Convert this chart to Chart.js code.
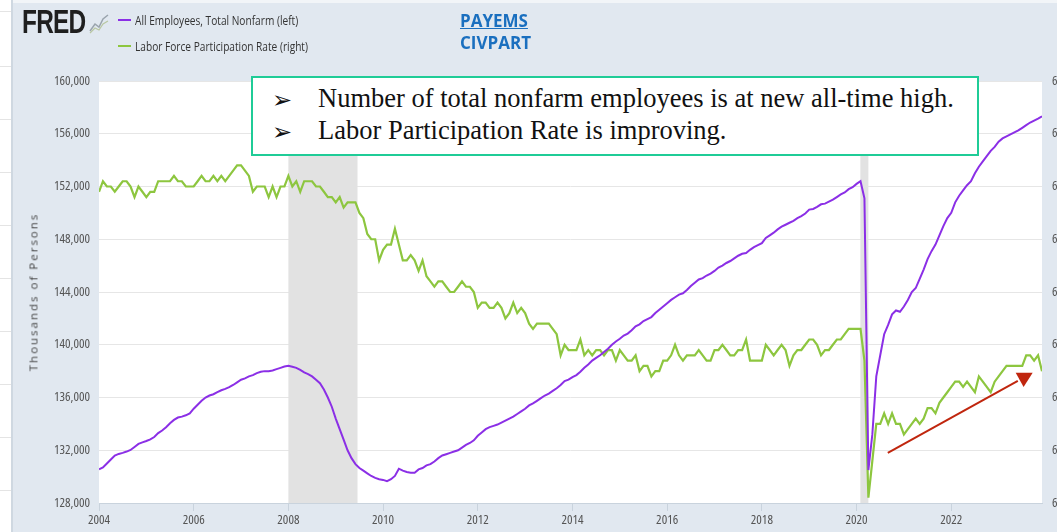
<!DOCTYPE html>
<html>
<head>
<meta charset="utf-8">
<script src="https://cdn.jsdelivr.net/npm/chart.js@4.4.0/dist/chart.umd.min.js"></script>
<style>
  html, body { margin: 0; padding: 0; }
  body { width: 1057px; height: 532px; overflow: hidden; position: relative; background: #e1e8f0; font-family: "Open Sans", sans-serif; }
  #strip { position: absolute; left: 0; top: 0; width: 11px; height: 532px; background: #fff; border-right: 2px solid #cfd8e1;
           background-image: repeating-linear-gradient(to bottom, transparent 0 52px, #e4e4e4 52px 53px); background-position: 0 14px; }
  #topband { position: absolute; left: 13px; top: 0; right: 0; height: 3px; background: #f2f5f8; }
  #chartBox { position: absolute; left: 16px; top: 0; width: 1100px; height: 532px; }
  .fred { position: absolute; left: 22px; top: 3px; font: bold 33px "Liberation Sans", Arial, sans-serif; color: #1f1f1f;
          transform: scaleX(0.74); transform-origin: left top; letter-spacing: -1px; }
  .icon { position: absolute; left: 89px; top: 12px; width: 20px; height: 22px; }
  .sw { position: absolute; left: 118px; width: 13px; height: 2px; }
  .lt { position: absolute; left: 135px; font-size: 13px; color: #333; white-space: nowrap; transform: scaleX(0.78); transform-origin: left center; }
  .code { position: absolute; left: 460px; font: bold 17px "Open Sans", sans-serif; color: #1a6fbf; }
  #ytitle { position: absolute; left: 33px; top: 292px; transform: translate(-50%, -50%) rotate(-90deg); font-size: 11.5px; letter-spacing: 2px; color: #444; white-space: nowrap; }
  #note { position: absolute; left: 251px; top: 76px; width: 724px; height: 76px; border: 2px solid #1fcc97; background: #fff; }
  .nl { position: absolute; font: 26.5px "Liberation Serif", "Times New Roman", serif; color: #111; white-space: nowrap; }
  .bul { position: absolute; left: 19px; font: 24px "DejaVu Sans", sans-serif; color: #111; }
</style>
</head>
<body>
<div id="strip"></div>
<div id="topband"></div>
<div id="chartBox"><canvas id="chart" width="1100" height="532"></canvas></div>

<div class="fred">FRED</div>
<svg class="icon" viewBox="0 0 20 22"><polyline points="1,19 6,12 10,15 14,7 19,3" fill="none" stroke="#9aa4ad" stroke-width="1.5"/><polyline points="1,21 6,16 10,18 14,12 19,9" fill="none" stroke="#b9c7a2" stroke-width="1.2"/></svg>
<div class="sw" style="top:19px;background:#8b2fe6"></div>
<div class="lt" style="top:11px">All Employees, Total Nonfarm (left)</div>
<div class="sw" style="top:45px;background:#8dc63f"></div>
<div class="lt" style="top:37px">Labor Force Participation Rate (right)</div>
<div class="code" style="top:9px;text-decoration:underline">PAYEMS</div>
<div class="code" style="top:31px">CIVPART</div>
<div id="ytitle">Thousands of Persons</div>

<div id="note">
  <div class="bul" style="top:8px">➢</div>
  <div class="nl" style="left:65px;top:5px">Number of total nonfarm employees is at new all-time high.</div>
  <div class="bul" style="top:40px">➢</div>
  <div class="nl" style="left:65px;top:37px">Labor Participation Rate is improving.</div>
</div>

<script>
// ---------- data ----------
const startYear = 2004;

// All Employees, Total Nonfarm (thousands), monthly Jan 2004 - Dec 2023
const payems = [
  130560, 130700, 131000, 131300, 131600, 131720, 131800, 131900, 132020, 132250, 132480, 132600, // 2004
  132700, 132830, 133000, 133300, 133500, 133750, 134050, 134300, 134480, 134550, 134650, 134800, // 2005
  135150, 135450, 135750, 136000, 136150, 136250, 136400, 136550, 136650, 136780, 136950, 137150, // 2006
  137350, 137450, 137600, 137700, 137850, 137950, 138000, 138000, 138050, 138150, 138250, 138350, // 2007
  138400, 138330, 138250, 138100, 137900, 137780, 137600, 137350, 137080, 136600, 136000, 135300, // 2008
  134400, 133600, 132800, 132000, 131400, 130950, 130650, 130450, 130250, 130050, 129900, 129800, // 2009
  129750, 129650, 129800, 130050, 130600, 130450, 130350, 130300, 130300, 130550, 130650, 130850, // 2010
  130950, 131150, 131400, 131600, 131700, 131800, 131900, 132000, 132200, 132400, 132550, 132750, // 2011
  133100, 133350, 133600, 133750, 133850, 133950, 134100, 134250, 134400, 134550, 134750, 134950, // 2012
  135150, 135400, 135550, 135750, 135950, 136150, 136300, 136500, 136700, 136950, 137250, 137350, // 2013
  137550, 137700, 137950, 138250, 138500, 138800, 139000, 139200, 139450, 139700, 140000, 140250, // 2014
  140450, 140700, 140850, 141100, 141400, 141550, 141800, 141950, 142100, 142400, 142650, 142900, // 2015
  143150, 143400, 143600, 143800, 143900, 144150, 144450, 144700, 144950, 145050, 145250, 145400, // 2016
  145600, 145850, 146000, 146200, 146350, 146550, 146750, 146900, 146950, 147200, 147400, 147550, // 2017
  147700, 148100, 148300, 148500, 148750, 148950, 149100, 149250, 149400, 149600, 149750, 149950, // 2018
  150250, 150300, 150450, 150650, 150700, 150850, 151000, 151200, 151400, 151550, 151800, 151950, // 2019
  152200, 152400, 151100, 130500, 133200, 137600, 139200, 140800, 141500, 142300, 142600, 142500, // 2020
  142900, 143400, 144000, 144300, 145000, 145700, 146500, 147100, 147600, 148300, 149000, 149600, // 2021
  150000, 150800, 151300, 151700, 152100, 152400, 153000, 153500, 153900, 154300, 154700, 155000, // 2022
  155400, 155650, 155800, 155950, 156100, 156250, 156450, 156650, 156850, 157000, 157150, 157320  // 2023
];

// Labor Force Participation Rate (%), monthly Jan 2004 - Dec 2023
const civpart = [
  65.9, 66.1, 66.0, 66.0, 65.9, 66.0, 66.1, 66.1, 66.0, 65.8, 66.0, 65.9, // 2004
  65.8, 65.9, 65.9, 66.1, 66.1, 66.1, 66.1, 66.2, 66.1, 66.1, 66.0, 66.0, // 2005
  66.0, 66.1, 66.2, 66.1, 66.1, 66.2, 66.1, 66.2, 66.1, 66.2, 66.3, 66.4, // 2006
  66.4, 66.3, 66.2, 65.9, 66.0, 66.0, 66.0, 65.8, 66.0, 65.8, 66.0, 66.0, // 2007
  66.2, 66.0, 66.1, 65.9, 66.1, 66.1, 66.1, 66.0, 66.0, 65.9, 65.8, 65.8, // 2008
  65.7, 65.8, 65.6, 65.7, 65.7, 65.7, 65.5, 65.4, 65.1, 65.0, 65.0, 64.6, // 2009
  64.8, 64.9, 64.9, 65.2, 64.9, 64.6, 64.6, 64.7, 64.6, 64.4, 64.6, 64.3, // 2010
  64.2, 64.1, 64.2, 64.2, 64.1, 64.0, 64.0, 64.1, 64.2, 64.1, 64.1, 64.0, // 2011
  63.7, 63.8, 63.8, 63.7, 63.7, 63.8, 63.7, 63.5, 63.6, 63.8, 63.6, 63.7, // 2012
  63.6, 63.4, 63.3, 63.4, 63.4, 63.4, 63.4, 63.3, 63.2, 62.8, 63.0, 62.9, // 2013
  62.9, 62.9, 63.1, 62.8, 62.9, 62.8, 62.9, 62.9, 62.8, 62.9, 62.9, 62.7, // 2014
  62.9, 62.8, 62.7, 62.7, 62.8, 62.5, 62.6, 62.6, 62.4, 62.5, 62.5, 62.7, // 2015
  62.7, 62.8, 63.0, 62.8, 62.7, 62.8, 62.8, 62.8, 62.9, 62.8, 62.7, 62.7, // 2016
  62.9, 62.9, 63.0, 62.9, 62.8, 62.8, 62.9, 62.9, 63.1, 62.7, 62.7, 62.7, // 2017
  62.7, 63.0, 62.9, 62.8, 62.9, 63.0, 62.9, 62.6, 62.8, 62.9, 62.9, 63.0, // 2018
  63.1, 63.1, 63.0, 62.8, 62.9, 62.9, 63.0, 63.1, 63.1, 63.2, 63.3, 63.3, // 2019
  63.3, 63.3, 62.7, 60.1, 60.8, 61.5, 61.5, 61.7, 61.5, 61.7, 61.5, 61.5, // 2020
  61.3, 61.4, 61.5, 61.6, 61.5, 61.6, 61.8, 61.8, 61.7, 61.9, 62.0, 62.1, // 2021
  62.2, 62.3, 62.3, 62.2, 62.3, 62.2, 62.1, 62.4, 62.3, 62.2, 62.1, 62.3, // 2022
  62.4, 62.5, 62.6, 62.6, 62.6, 62.6, 62.6, 62.8, 62.8, 62.7, 62.8, 62.5  // 2023
];

// shaded recessions (decimal years)
const recessions = [[2008.0, 2009.46], [2020.08, 2020.25]];

// red arrow drawn on the chart, in (year, rate) units
const arrowFrom = [2020.66, 60.95];
const arrowTo = [2023.72, 62.47];

// ---------- helpers ----------
function toPoints(values) {
  return values.map((v, i) => ({ x: startYear + i / 12, y: v }));
}

// condensed face like FRED's axis text
const tickFont = { family: "'Open Sans', sans-serif", size: 13, weight: "400 condensed" };

// white plot area + recession bars + arrow
const fredPlugin = {
  id: "fredPlugin",
  beforeDraw(chart) {
    const { ctx, chartArea: a } = chart;
    ctx.save();
    ctx.fillStyle = "#fff";
    ctx.fillRect(a.left, a.top, a.right - a.left, a.bottom - a.top);
    ctx.restore();
  },
  beforeDatasetsDraw(chart) {
    const { ctx, chartArea: a, scales } = chart;
    ctx.save();
    ctx.fillStyle = "#e2e2e2";
    recessions.forEach(([s, e]) => {
      const x0 = scales.x.getPixelForValue(s);
      const x1 = scales.x.getPixelForValue(e);
      ctx.fillRect(x0, a.top, x1 - x0, a.bottom - a.top);
    });
    ctx.restore();
  },
  afterDatasetsDraw(chart) {
    const { ctx, scales } = chart;
    const x0 = scales.x.getPixelForValue(arrowFrom[0]);
    const y0 = scales.y2.getPixelForValue(arrowFrom[1]);
    const x1 = scales.x.getPixelForValue(arrowTo[0]);
    const y1 = scales.y2.getPixelForValue(arrowTo[1]);
    const ang = Math.atan2(y1 - y0, x1 - x0);
    const head = 17;
    ctx.save();
    ctx.strokeStyle = "#c0260e";
    ctx.fillStyle = "#c0260e";
    ctx.lineWidth = 2;
    ctx.beginPath();
    ctx.moveTo(x0, y0);
    ctx.lineTo(x1 - head * Math.cos(ang), y1 - head * Math.sin(ang));
    ctx.stroke();
    ctx.beginPath();
    ctx.moveTo(x1, y1);
    ctx.lineTo(x1 - head * Math.cos(ang - 0.5), y1 - head * Math.sin(ang - 0.5));
    ctx.lineTo(x1 - head * Math.cos(ang + 0.5), y1 - head * Math.sin(ang + 0.5));
    ctx.closePath();
    ctx.fill();
    ctx.restore();
  }
};

// ---------- chart ----------
new Chart(document.getElementById("chart"), {
  type: "line",
  data: {
    datasets: [
      {
        label: "All Employees, Total Nonfarm (left)",
        data: toPoints(payems),
        yAxisID: "y",
        borderColor: "#8b2fe6",
        borderWidth: 2,
        pointRadius: 0,
        tension: 0
      },
      {
        label: "Labor Force Participation Rate (right)",
        data: toPoints(civpart),
        yAxisID: "y2",
        borderColor: "#8dc63f",
        borderWidth: 2.2,
        pointRadius: 0,
        tension: 0
      }
    ]
  },
  options: {
    responsive: false,
    animation: false,
    layout: { padding: { top: 81, left: 0, right: 0, bottom: 0 } },
    plugins: { legend: { display: false }, tooltip: { enabled: false } },
    scales: {
      x: {
        type: "linear",
        min: startYear,
        max: startYear + (payems.length - 1) / 12,
        afterFit(s) { s.height = 29; },
        grid: { drawOnChartArea: false, drawTicks: true, tickLength: 8, color: "#c9d3dd" },
        border: { display: true, color: "#c9d3dd" },
        ticks: {
          stepSize: 2,
          includeBounds: false,
          padding: 1,
          color: "#555",
          font: tickFont,
          maxRotation: 0,
          callback: (v) => String(v)
        }
      },
      y: {
        position: "left",
        min: 128000,
        max: 160000,
        afterFit(s) { s.width = 83; },
        grid: { color: "#e6e6e6", drawTicks: false },
        border: { display: false },
        ticks: { stepSize: 4000, padding: 9, color: "#555", font: tickFont }
      },
      y2: {
        position: "right",
        min: 60,
        max: 68,
        afterFit(s) { s.width = 74; },
        grid: { drawOnChartArea: false, drawTicks: false },
        border: { display: false },
        ticks: { stepSize: 1, padding: 10, color: "#555", font: tickFont }
      }
    }
  },
  plugins: [fredPlugin]
});
</script>
</body>
</html>
